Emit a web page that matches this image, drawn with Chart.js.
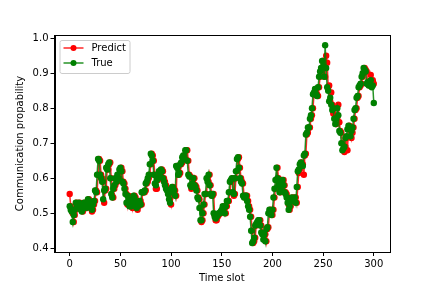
<!DOCTYPE html>
<html>
<head>
<meta charset="utf-8">
<script src="https://cdn.jsdelivr.net/npm/chart.js@4"></script>
<style>
  html, body { margin: 0; padding: 0; background: #fff; }
  #chart { display: block; }
</style>
</head>
<body>
<canvas id="chart" width="432" height="288"></canvas>
<script>
// ======= Data =======
const xTicks = [0, 50, 100, 150, 200, 250, 300];
const yTicks = [0.4, 0.5, 0.6, 0.7, 0.8, 0.9, 1.0];

const trueValues = [
  0.52, 0.51, 0.505, 0.475, 0.495, 0.51, 0.53, 0.52, 0.525, 0.53,
  0.525, 0.51, 0.505, 0.515, 0.53, 0.52, 0.515, 0.525, 0.54, 0.535,
  0.53, 0.515, 0.51, 0.525, 0.535, 0.565, 0.56, 0.61, 0.655, 0.65,
  0.61, 0.60, 0.59, 0.54, 0.565, 0.57, 0.63, 0.625, 0.64, 0.645,
  0.60, 0.555, 0.545, 0.57, 0.58, 0.60, 0.59, 0.61, 0.60, 0.625,
  0.63, 0.62, 0.59, 0.585, 0.57, 0.555, 0.53, 0.55, 0.535, 0.52,
  0.535, 0.52, 0.54, 0.55, 0.545, 0.53, 0.515, 0.52, 0.53, 0.535,
  0.525, 0.56, 0.56, 0.56, 0.565, 0.585, 0.59, 0.60, 0.61, 0.64,
  0.67, 0.665, 0.65, 0.61, 0.585, 0.58, 0.595, 0.60, 0.62, 0.615,
  0.625, 0.62, 0.60, 0.59, 0.58, 0.57, 0.565, 0.555, 0.54, 0.53,
  0.56, 0.575, 0.57, 0.565, 0.55, 0.635, 0.63, 0.61, 0.615, 0.64,
  0.645, 0.66, 0.665, 0.655, 0.68, 0.68, 0.65, 0.61, 0.605, 0.58,
  0.575, 0.585, 0.60, 0.58, 0.575, 0.565, 0.545, 0.54, 0.515, 0.48,
  0.48, 0.50, 0.525, 0.555, 0.555, 0.60, 0.59, 0.61, 0.58, 0.555,
  0.55, 0.555, 0.50, 0.49, 0.485, 0.49, 0.495, 0.50, 0.50, 0.505,
  0.51, 0.52, 0.515, 0.50, 0.52, 0.535, 0.535, 0.56, 0.59, 0.595,
  0.60, 0.56, 0.555, 0.60, 0.62, 0.655, 0.66, 0.63, 0.60, 0.59,
  0.585, 0.55, 0.545, 0.55, 0.55, 0.535, 0.52, 0.51, 0.49, 0.45,
  0.415, 0.42, 0.43, 0.465, 0.47, 0.475, 0.48, 0.48, 0.465, 0.445,
  0.44, 0.425, 0.44, 0.42, 0.455, 0.46, 0.50, 0.51, 0.505, 0.495,
  0.51, 0.545, 0.57, 0.595, 0.63, 0.60, 0.58, 0.56, 0.57, 0.59,
  0.595, 0.58, 0.56, 0.555, 0.545, 0.53, 0.51, 0.52, 0.535, 0.545,
  0.535, 0.54, 0.545, 0.53, 0.575, 0.62, 0.625, 0.64, 0.645, 0.64,
  0.635, 0.665, 0.67, 0.725, 0.73, 0.745, 0.745, 0.77, 0.78, 0.80,
  0.84, 0.845, 0.855, 0.84, 0.835, 0.86, 0.89, 0.905, 0.915, 0.935,
  0.92, 0.89, 0.98, 0.915, 0.86, 0.85, 0.82, 0.83, 0.81, 0.795,
  0.80, 0.77, 0.755, 0.77, 0.80, 0.78, 0.735, 0.73, 0.70, 0.68,
  0.685, 0.69, 0.715, 0.72, 0.74, 0.75, 0.745, 0.72, 0.735, 0.745,
  0.77, 0.795, 0.80, 0.83, 0.835, 0.86, 0.865, 0.87, 0.89, 0.90,
  0.915, 0.91, 0.905, 0.87, 0.875, 0.865, 0.87, 0.88, 0.86, 0.865,
  0.815
];

const predictValues = [
  0.555, 0.52, 0.51, 0.50, 0.475, 0.495, 0.51, 0.53, 0.52, 0.525,
  0.53, 0.525, 0.51, 0.505, 0.515, 0.53, 0.52, 0.515, 0.525, 0.54,
  0.535, 0.53, 0.505, 0.51, 0.525, 0.535, 0.565, 0.56, 0.61, 0.655,
  0.65, 0.61, 0.60, 0.59, 0.53, 0.565, 0.57, 0.63, 0.625, 0.64,
  0.645, 0.60, 0.55, 0.545, 0.57, 0.58, 0.60, 0.59, 0.61, 0.60,
  0.625, 0.63, 0.62, 0.59, 0.585, 0.57, 0.555, 0.525, 0.55, 0.535,
  0.52, 0.535, 0.515, 0.54, 0.55, 0.545, 0.53, 0.51, 0.52, 0.53,
  0.535, 0.525, 0.56, 0.56, 0.56, 0.565, 0.585, 0.59, 0.60, 0.61,
  0.64, 0.67, 0.665, 0.65, 0.61, 0.57, 0.57, 0.595, 0.60, 0.62,
  0.615, 0.625, 0.62, 0.60, 0.59, 0.58, 0.57, 0.565, 0.555, 0.54,
  0.525, 0.56, 0.575, 0.57, 0.565, 0.55, 0.635, 0.63, 0.61, 0.615,
  0.64, 0.645, 0.66, 0.665, 0.655, 0.68, 0.68, 0.65, 0.61, 0.605,
  0.57, 0.575, 0.585, 0.60, 0.58, 0.575, 0.565, 0.545, 0.54, 0.515,
  0.475, 0.48, 0.50, 0.525, 0.555, 0.555, 0.60, 0.59, 0.61, 0.58,
  0.555, 0.55, 0.555, 0.495, 0.48, 0.48, 0.49, 0.495, 0.50, 0.50,
  0.505, 0.51, 0.52, 0.515, 0.50, 0.52, 0.535, 0.535, 0.56, 0.59,
  0.595, 0.60, 0.55, 0.555, 0.60, 0.62, 0.655, 0.66, 0.63, 0.60,
  0.59, 0.585, 0.55, 0.545, 0.55, 0.55, 0.535, 0.52, 0.51, 0.49,
  0.45, 0.415, 0.42, 0.43, 0.465, 0.47, 0.475, 0.48, 0.48, 0.465,
  0.445, 0.44, 0.425, 0.44, 0.42, 0.455, 0.46, 0.50, 0.51, 0.505,
  0.495, 0.51, 0.545, 0.57, 0.595, 0.63, 0.60, 0.58, 0.56, 0.57,
  0.59, 0.595, 0.58, 0.56, 0.555, 0.545, 0.525, 0.51, 0.52, 0.535,
  0.545, 0.535, 0.54, 0.545, 0.53, 0.575, 0.615, 0.625, 0.64, 0.645,
  0.64, 0.61, 0.665, 0.67, 0.725, 0.73, 0.745, 0.745, 0.77, 0.78,
  0.80, 0.84, 0.845, 0.855, 0.84, 0.835, 0.86, 0.89, 0.905, 0.915,
  0.935, 0.92, 0.89, 0.95, 0.93, 0.86, 0.865, 0.82, 0.845, 0.81,
  0.785, 0.80, 0.77, 0.755, 0.77, 0.81, 0.76, 0.735, 0.73, 0.70,
  0.68, 0.675, 0.69, 0.715, 0.68, 0.74, 0.75, 0.745, 0.715, 0.73,
  0.745, 0.77, 0.795, 0.80, 0.83, 0.835, 0.86, 0.865, 0.87, 0.89,
  0.90, 0.915, 0.91, 0.905, 0.87, 0.875, 0.865, 0.895, 0.88, 0.88,
  0.87
];

const timeSlots = trueValues.map((v, i) => i);

const FONT = { family: "'DejaVu Sans', sans-serif", size: 10 };

// ======= Plugins =======
// matplotlib style frame around the plot area
const frame = {
  id: "frame",
  afterDraw(chart) {
    const a = chart.chartArea;
    const c = chart.ctx;
    c.save();
    c.strokeStyle = "#000";
    c.lineWidth = 1;
    c.strokeRect(Math.round(a.left) + 0.5, Math.round(a.top) + 0.5,
      Math.round(a.right - a.left), Math.round(a.bottom - a.top));
    c.restore();
  }
};

// legend box with line + marker samples
const mplLegend = {
  id: "mplLegend",
  afterDraw(chart) {
    const c = chart.ctx;
    const a = chart.chartArea;
    const x0 = a.left + 5, y0 = a.top + 5, w = 70, h = 33;
    c.save();
    c.fillStyle = "rgba(255,255,255,0.8)";
    c.strokeStyle = "#cccccc";
    c.lineWidth = 1;
    c.beginPath();
    c.roundRect(x0 + 0.5, y0 + 0.5, w, h, 2);
    c.fill();
    c.stroke();
    chart.data.datasets.forEach((ds, i) => {
      const yy = y0 + 8 + i * 15;
      c.strokeStyle = ds.borderColor;
      c.lineWidth = 1.5;
      c.beginPath();
      c.moveTo(x0 + 4, yy);
      c.lineTo(x0 + 24, yy);
      c.stroke();
      c.fillStyle = ds.pointBackgroundColor;
      c.beginPath();
      c.arc(x0 + 14, yy, 3, 0, Math.PI * 2);
      c.fill();
      c.fillStyle = "#000";
      c.font = FONT.size + "px " + FONT.family;
      c.textBaseline = "middle";
      c.fillText(ds.label, x0 + 32, yy);
    });
    c.restore();
  }
};

// ======= Chart =======
const ctx = document.getElementById("chart").getContext("2d");
const chart = new Chart(ctx, {
  type: "line",
  data: {
    datasets: [
      {
        label: "Predict",
        data: timeSlots.map((t, i) => ({ x: t, y: predictValues[i] })),
        borderColor: "rgba(255,0,0,0.85)",
        backgroundColor: "#ff0000",
        pointBackgroundColor: "#ff0000",
        pointBorderWidth: 0,
        pointRadius: 3.2,
        borderWidth: 1.5,
        tension: 0,
        order: 2
      },
      {
        label: "True",
        data: timeSlots.map((t, i) => ({ x: t, y: trueValues[i] })),
        borderColor: "rgba(0,128,0,0.85)",
        backgroundColor: "#008000",
        pointBackgroundColor: "#008000",
        pointBorderWidth: 0,
        pointRadius: 3.2,
        borderWidth: 1.5,
        tension: 0,
        order: 1
      }
    ]
  },
  options: {
    responsive: false,
    animation: false,
    devicePixelRatio: 1,
    layout: { padding: { top: 35, right: 43, left: 0, bottom: 0 } },
    plugins: { legend: { display: false }, tooltip: { enabled: false } },
    scales: {
      x: {
        type: "linear",
        min: -15,
        max: 315,
        afterBuildTicks: s => { s.ticks = xTicks.map(v => ({ value: v })); },
        afterFit: s => { s.height = 36; },
        grid: { drawOnChartArea: false, tickLength: 4, color: "#000" },
        border: { color: "#000" },
        ticks: { color: "#000", font: FONT, padding: 2, maxRotation: 0, callback: v => v },
        title: { display: true, text: "Time slot", color: "#000", font: FONT, padding: { top: 0, bottom: 4 } }
      },
      y: {
        type: "linear",
        min: 0.3894,
        max: 1.0095,
        afterBuildTicks: s => { s.ticks = yTicks.map(v => ({ value: v })); },
        afterFit: s => { s.width = 54.5; },
        grid: { drawOnChartArea: false, tickLength: 4, color: "#000" },
        border: { color: "#000" },
        ticks: { color: "#000", font: FONT, padding: 2, callback: v => v.toFixed(1) },
        title: { display: true, text: "Communication propability", color: "#000", font: FONT, padding: { top: 14, bottom: 0 } }
      }
    }
  },
  plugins: [frame, mplLegend]
});
</script>
</body>
</html>
